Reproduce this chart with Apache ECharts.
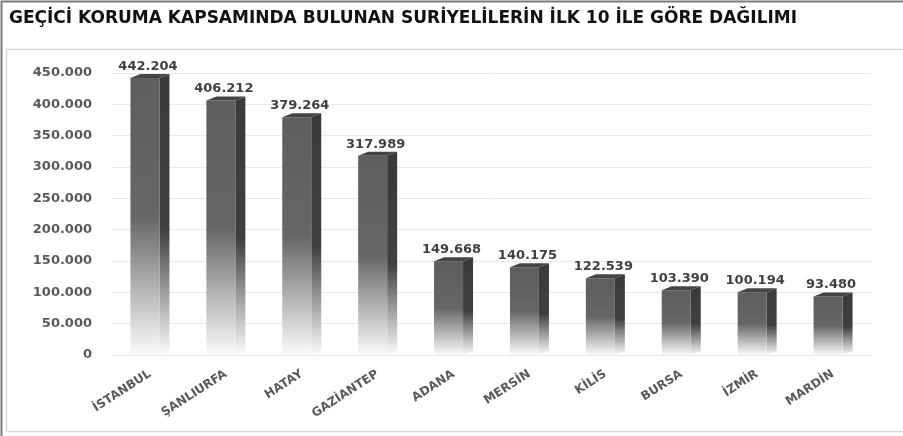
<!DOCTYPE html>
<html>
<head>
<meta charset="utf-8">
<script src="https://cdn.jsdelivr.net/npm/echarts@6/dist/echarts.min.js"></script>
<style>
  html, body { margin: 0; padding: 0; background: #fff; }
  #chart { width: 903px; height: 436px; }
</style>
</head>
<body>
<div id="chart"></div>
<script>
// İllere göre veriler
const provinces = ['İSTANBUL', 'ŞANLIURFA', 'HATAY', 'GAZİANTEP', 'ADANA', 'MERSİN', 'KİLİS', 'BURSA', 'İZMİR', 'MARDİN'];
const population = [442204, 406212, 379264, 317989, 149668, 140175, 122539, 103390, 100194, 93480];
const yTicks = [0, 50000, 100000, 150000, 200000, 250000, 300000, 350000, 400000, 450000];

function fmt(v) {
    return String(v).replace(/\B(?=(\d{3})+(?!\d))/g, '.');
}

// 3D görünümlü çubuk
function renderBar(params, api) {
    const idx = api.value(0);
    const val = api.value(1);
    const top = api.coord([idx, val]);
    const base = api.coord([idx, 0]);
    const bw = 29, dx = 10, dy = 4;
    const left = top[0] - (bw + dx) / 2;
    const right = left + bw;
    return {
        type: 'group',
        children: [
            {
                type: 'polygon',
                shape: { points: [[right, top[1]], [right + dx, top[1] - dy], [right + dx, base[1] - dy], [right, base[1]]] },
                style: {
                    fill: new echarts.graphic.LinearGradient(0, 0, 0, 1, [
                        { offset: 0, color: '#3a3a3a' },
                        { offset: 0.55, color: '#3f3f3f' },
                        { offset: 1, color: '#fafafa' }
                    ])
                }
            },
            {
                type: 'rect',
                shape: { x: left, y: top[1], width: bw, height: base[1] - top[1] },
                style: {
                    fill: new echarts.graphic.LinearGradient(0, 0, 0, 1, [
                        { offset: 0, color: '#5e5e5e' },
                        { offset: 0.5, color: '#666666' },
                        { offset: 1, color: '#fafafa' }
                    ])
                }
            },
            {
                type: 'polygon',
                shape: { points: [[left, top[1]], [left + dx, top[1] - dy], [right + dx, top[1] - dy], [right, top[1]]] },
                style: { fill: '#454545' }
            },
            {
                type: 'text',
                style: {
                    text: fmt(val),
                    x: left + (bw + dx) / 2 - 2,
                    y: top[1] - 5,
                    align: 'center',
                    verticalAlign: 'bottom',
                    fill: '#404040',
                    font: 'bold 13px "DejaVu Sans"'
                }
            }
        ]
    };
}

const chart = echarts.init(document.getElementById('chart'));
chart.setOption({
    backgroundColor: '#fff',
    animation: false,
    title: {
        text: 'GEÇİCİ KORUMA KAPSAMINDA BULUNAN SURİYELİLERİN İLK 10 İLE GÖRE DAĞILIMI',
        left: 4,
        top: 5,
        textStyle: { fontFamily: 'DejaVu Sans', fontSize: 17, fontWeight: 'bold', color: '#111' }
    },
    graphic: [
        {
            type: 'polyline',
            shape: { points: [[1.5, 436], [1.5, 1.5], [903, 1.5]] },
            style: { stroke: '#7a7a7a', lineWidth: 2, fill: null }
        },
        {
            type: 'rect',
            shape: { x: 6.5, y: 49.5, width: 900, height: 382 },
            style: { stroke: '#d9d9d9', lineWidth: 1.5, fill: null }
        }
    ],
    grid: { left: 112, right: 32, top: 73, bottom: 81 },
    xAxis: {
        type: 'category',
        data: provinces,
        axisLine: { show: false },
        axisTick: { show: false },
        axisLabel: {
            rotate: 33,
            interval: 0,
            margin: 18,
            color: '#595959',
            fontFamily: 'DejaVu Sans',
            fontWeight: 'bold',
            fontSize: 12
        }
    },
    yAxis: {
        type: 'value',
        min: yTicks[0],
        max: yTicks[yTicks.length - 1],
        interval: yTicks[1] - yTicks[0],
        axisLine: { show: false },
        axisTick: { show: false },
        axisLabel: {
            margin: 20,
            color: '#595959',
            fontFamily: 'DejaVu Sans',
            fontWeight: 'bold',
            fontSize: 13,
            formatter: fmt
        },
        splitLine: { lineStyle: { color: '#e8e8e8' } }
    },
    series: [
        {
            type: 'custom',
            renderItem: renderBar,
            data: population.map((v, i) => [i, v])
        }
    ]
});
</script>
</body>
</html>
